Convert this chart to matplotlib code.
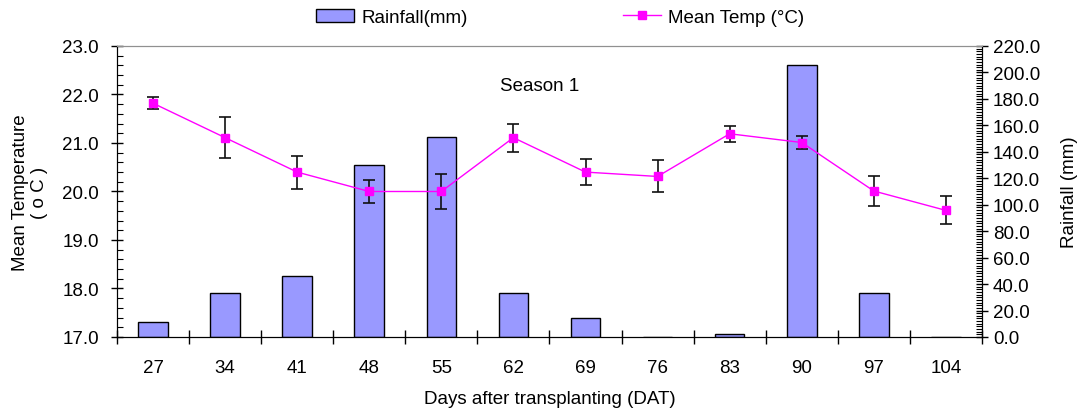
import numpy as np
import matplotlib
matplotlib.use('Agg')
import matplotlib.pyplot as plt
from matplotlib.ticker import MultipleLocator, FormatStrFormatter

plt.rcParams['font.family'] = ['Liberation Sans', 'DejaVu Sans']
plt.rcParams['font.size'] = 13.5

# data
days = ['27', '34', '41', '48', '55', '62', '69', '76', '83', '90', '97', '104']
rainfall = [11, 33, 46, 130, 151, 33, 14, 0, 2, 206, 33, 0]
mean_temp = [21.82, 21.11, 20.40, 20.00, 20.00, 21.11, 20.40, 20.31, 21.19, 21.01, 20.01, 19.61]
temp_err = [0.12, 0.42, 0.34, 0.24, 0.36, 0.29, 0.26, 0.33, 0.17, 0.14, 0.31, 0.29]

x = np.arange(len(days))

fig = plt.figure(figsize=(10.86, 4.14), dpi=100)
ax = fig.add_axes([0.1077, 0.1836, 0.7965, 0.7029])
ax2 = ax.twinx()

# rainfall bars on the right axis, drawn behind the temperature line
bars = ax2.bar(x, rainfall, width=0.41, color='#9999FF', edgecolor='black', linewidth=1,
               label='Rainfall(mm)')
ax2.set_ylim(0, 220)
ax2.yaxis.set_major_locator(MultipleLocator(20))
ax2.yaxis.set_minor_locator(MultipleLocator(2))
ax2.yaxis.set_major_formatter(FormatStrFormatter('%.1f'))
ax2.tick_params(axis='y', which='major', direction='inout', length=8, width=1, pad=4)
ax2.tick_params(axis='y', which='minor', direction='in', length=4, width=0.8)
ax2.set_ylabel('Rainfall (mm)', labelpad=15)

ax.set_zorder(ax2.get_zorder() + 1)
ax.patch.set_visible(False)
ax.errorbar(x, mean_temp, yerr=temp_err, fmt='none', ecolor='#111111', elinewidth=1.2,
            capsize=4, capthick=1.2, zorder=3)
line, = ax.plot(x, mean_temp, color='#FF00FF', linewidth=1, marker='s', markersize=6,
                markerfacecolor='#FF00FF', markeredgecolor='#FF00FF', label='Mean Temp (°C)',
                zorder=4)
ax.set_ylim(17, 23)
ax.yaxis.set_major_locator(MultipleLocator(1))
ax.yaxis.set_minor_locator(MultipleLocator(0.2))
ax.yaxis.set_major_formatter(FormatStrFormatter('%.1f'))
ax.tick_params(axis='y', which='major', direction='inout', length=8, width=1, pad=9)
ax.tick_params(axis='y', which='minor', direction='in', length=4, width=0.8)
ax.set_ylabel('Mean Temperature\n( o C )', labelpad=10)

# categories: boundary ticks as major, labels on minor ticks at centres
ax.set_xlim(-0.5, len(days) - 0.5)
ax.set_xticks(np.arange(-0.5, len(days), 1))
ax.set_xticklabels([])
ax.set_xticks(x, minor=True)
ax.set_xticklabels(days, minor=True)
ax.tick_params(axis='x', which='major', direction='inout', length=10, width=1)
ax.tick_params(axis='x', which='minor', length=0, pad=16)
ax.set_xlabel('Days after transplanting (DAT)', labelpad=10)

for a in (ax, ax2):
    a.spines['top'].set_color('#909090')

ax.text(0.489, 0.865, 'Season 1', transform=ax.transAxes, ha='center', va='center')

fig.legend([bars, line], ['Rainfall(mm)', 'Mean Temp (°C)'], loc='center',
           bbox_to_anchor=(0.516, 0.956), ncol=2, frameon=False, handlelength=2.0,
           handletextpad=0.4, columnspacing=8.3)

fig.savefig('out.png', dpi=100)
